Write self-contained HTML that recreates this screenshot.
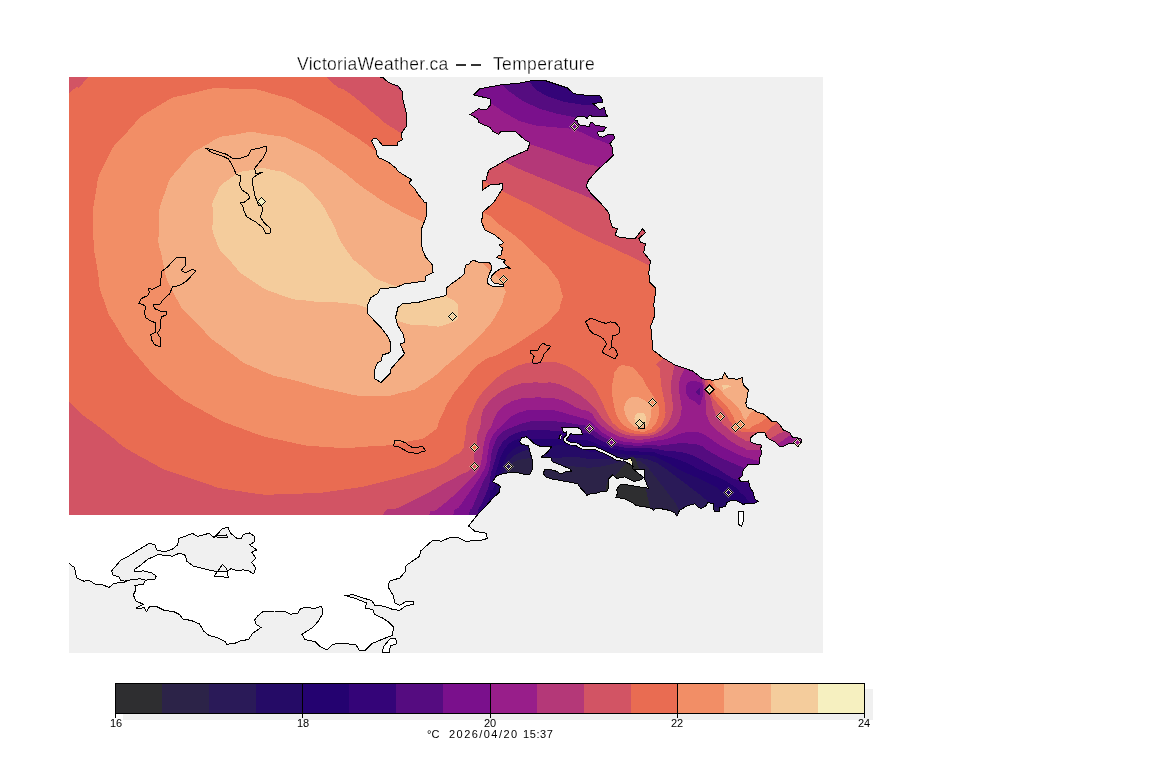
<!DOCTYPE html>
<html><head><meta charset="utf-8"><title>VictoriaWeather.ca -- Temperature</title>
<style>
html,body{margin:0;padding:0;background:#fff;}
body{width:1152px;height:768px;overflow:hidden;position:relative;font-family:"Liberation Sans",sans-serif;}
svg{position:absolute;left:0;top:0;display:block;}
.t{position:absolute;white-space:nowrap;color:#000;will-change:transform;}
</style></head><body>
<svg width="1152" height="768" viewBox="0 0 1152 768" shape-rendering="crispEdges">
<defs><clipPath id="land"><path d="M69 77 L379.4 77 L382.5 77.2 L387.7 81.9 L392.9 84.5 L398 86 L402.3 91.3 L402.3 97 L404.4 105.3 L406.5 113.7 L406.5 126.2 L401.2 133.5 L402.3 139.7 L398 141.8 L397.6 145.4 L382.5 145.4 L376.8 138.7 L373 138.7 L371.6 141.3 L374.2 146 L376.8 152 L376.7 154.7 L379.2 158 L383.3 159.7 L389.2 162.6 L396.7 168.8 L397.5 170.9 L403.3 174.7 L410 178.8 L412 179.7 L410 181.3 L409.6 183.8 L414.2 188 L418.3 194.7 L423.3 200.5 L424.2 202.2 L426.7 202.6 L426.7 212 L426 217.5 L421 230 L421 240 L422.5 250 L426 257.5 L432.5 265 L433 272.5 L426 276 L425 281 L415 282.5 L405 283.7 L396 287.5 L380 288.7 L377.5 293.7 L371 297.5 L367 306 L368 313.7 L373.7 320 L381 327.5 L387.5 336 L391 343.7 L390 352.5 L382.5 355 L381 361 L377.5 362.5 L374.5 370 L374.5 378.7 L381 382.5 L387.5 376 L391 372.5 L390 370 L398.7 360 L404.5 353.7 L400 343.7 L404.5 342.5 L403.7 335 L398 326 L395.5 317.5 L398 307.5 L402.5 303.7 L417.5 302.5 L432.5 298.7 L446 295.5 L447 287.5 L450 285 L460 277.6 L463.9 274.5 L464.7 269.4 L465.9 265 L469.4 264 L471 261.2 L474 260.4 L478 262 L482.7 262.7 L489.7 263 L491.6 265.5 L492 268.6 L490 272.5 L487.7 278.7 L487.7 283.4 L491.2 285.8 L495.2 287 L503.4 286.2 L503.4 284.2 L495.2 283.8 L492 281 L490.9 278.4 L492 275.6 L496 271.7 L500.6 268.6 L506 267.8 L510.4 268.2 L505.3 264.7 L503.7 262 L505.3 260 L500.6 258.8 L496.7 257.7 L498.3 255.7 L501 255 L501.4 251 L503 250.2 L502.2 247.5 L500.2 246.7 L499.8 244.8 L502.2 244 L503.4 242.4 L500.6 239.7 L497.5 237.3 L495.2 235 L492.5 233.7 L485 230 L481.7 222.5 L482.5 212.5 L493.7 202.5 L502.5 188.7 L502.5 183.7 L490 185 L482.5 190 L482.5 181 L486 180 L488.7 170 L497.5 165 L510 157.5 L527.5 150 L530 142.5 L525 140 L516 132 L501 131 L498.7 134.5 L492.5 131 L490 127.5 L478.7 122.5 L477.5 118.7 L470 114.5 L478.7 108.7 L486 110 L490.5 105 L490 98.7 L473.7 95 L480 88.7 L500 85 L520 83 L532.5 80.5 L545 80.5 L560 85.5 L567.5 88 L573.7 93.7 L590 95.7 L600 96 L602.7 100 L602.7 102.3 L592.5 103.5 L595.6 105.9 L597.6 107.8 L599.5 109.8 L601.9 108.6 L604.6 107.4 L605.4 112.5 L607.7 116.8 L605 116.8 L598.7 116.8 L592.5 116.4 L589.4 115.2 L587 118.4 L583.9 116 L578.4 116 L574.1 119.9 L577.3 120.5 L578.4 124.2 L582 125.8 L589.4 126.2 L590.5 122.7 L593.3 123 L594.8 125 L598.7 125.8 L606.6 127.3 L603.4 131.2 L598 131.6 L597.6 133.6 L599.1 135.9 L602.7 137.1 L605 135.9 L608.9 134.4 L613.6 134.4 L614.8 138.3 L609.7 143.7 L612.8 147.7 L612.8 153.1 L613.2 155.5 L610.9 157.8 L610 158.7 L597.5 170 L588.7 180 L586 186 L591 193.7 L600 202.5 L608.7 212.5 L610 220 L612.5 227.5 L617.5 228.7 L615 235 L620 237.5 L635 238.7 L642.5 228.7 L645.5 232.5 L638.7 238.7 L641 242.5 L645.5 243.7 L643.7 252.5 L650.5 261 L648.7 272.5 L650 282.5 L656 288.7 L653.7 305 L655 315 L650.7 326 L652 340 L653 350 L662.5 357.5 L675 365 L692.5 371 L702.5 378.7 L712.5 380.3 L722 378.5 L724.6 373 L728 378 L737.5 379.3 L742.3 377.5 L743.3 384.8 L748.3 389.6 L747.4 396.2 L745.8 403.5 L747.4 407.7 L753 409.3 L757.3 412.4 L762.5 413.4 L767.7 417 L771.9 421.2 L776.6 421.8 L779.2 423.9 L783.3 430 L789.6 432.7 L792.7 437.4 L800.5 438.4 L801.9 441 L797.9 446.8 L794.3 443.6 L788.5 443.6 L782.3 446.8 L779.2 446.2 L775 442 L770.8 440 L766.7 437.4 L765 432.7 L757.3 432.7 L752 436.4 L750 439 L751 442 L756.2 444.2 L760 444.2 L762 446.2 L760.4 448.3 L761.8 453 L759.6 458.2 L759 464 L748.5 464 L743.3 470 L742 476.5 L738.7 478.4 L740.7 481.7 L748.5 481 L749.8 486.9 L753 492 L755 499.2 L758.2 501.2 L755 503 L747.2 503 L743.3 504.5 L738 501.2 L732.9 499.9 L726.4 502.5 L725.7 506.4 L719.8 507.7 L719.2 511.6 L714.6 511.6 L713.3 507.7 L713.3 503.8 L708 502.5 L705.5 506.4 L701 508.4 L697.7 507 L695 503.8 L687.3 505.7 L679.5 510.3 L676.9 516.2 L674.9 512.9 L669 510.3 L662.5 509 L656 508.4 L653.4 510.3 L652 508.4 L643 506.4 L636.5 505.7 L632.5 502.7 L624.2 498.5 L615 497.4 L607 491.6 L602.4 491 L595.9 493.6 L590.7 493.6 L586.8 495.3 L584.2 491.6 L580.3 487.7 L577.7 483.8 L564.6 481.2 L553 479.2 L546.4 477.3 L543 473.4 L545 469.5 L550.3 469.5 L556.8 471.4 L560.7 474 L564.6 472 L571.8 471.4 L569.8 468.8 L560.7 465 L552.3 461.7 L551 458 L541.2 457 L547.7 452 L551.6 446.7 L541.2 446.7 L534.7 444 L530 439.5 L526.2 436.7 L521.7 437.6 L519.7 441.5 L521.7 444.7 L528.2 445.4 L529.5 450 L532 459 L532 470 L530 474 L523 474 L515.2 472 L503.4 473.4 L496.3 476 L492.4 481.8 L497 483.8 L500.2 486.4 L499.5 492.3 L493 498 L486 506 L477.3 515 L69 515Z"/></clipPath>
<clipPath id="map"><rect x="69" y="77" width="754" height="576"/></clipPath></defs>
<rect x="0" y="0" width="1152" height="768" fill="#fff"/>
<rect x="69" y="77" width="754" height="576" fill="#f0f0f0"/>
<g clip-path="url(#map)">
<g clip-path="url(#land)">
<rect x="60" y="70" width="780" height="460" fill="#d25464"/>
<path d="M300 40C369 55.7 309.8 58.7 327 77C344.2 95.3 335.1 82.1 351.7 95C368.3 107.9 362.8 104.7 376.7 115.8C390.6 126.9 372.2 114.9 393.3 128.3C414.4 141.7 409.4 138.1 440 156C470.6 173.9 461 168.7 485 182C509 195.3 493.7 186.7 512 196C530.3 205.3 517.3 197.8 540 210C562.7 222.2 555 219.5 580 232.5C605 245.5 591.5 237.8 615 249C638.5 260.2 622.2 252.3 650.5 266C678.8 279.7 676.8 268.7 700 290C723.2 311.3 723.3 309.3 720 330C716.7 350.7 709.7 341.9 690 352C670.3 362.1 670.7 354.1 660.8 360.4C650.9 366.7 660.3 363.9 660.3 370.8C660.3 377.7 660.1 374.2 660.8 381.2C661.5 388.2 661.2 384.8 662.4 391.7C663.6 398.6 663.5 395.9 664.5 402C665.5 408.1 665.2 405.8 665.4 410C665.6 414.2 665.9 410.5 665 414.7C664.1 418.9 665 417.8 662.7 422.5C660.4 427.2 661.9 425.3 658 428.7C654.1 432.1 656.2 431 651 432.7C645.8 434.4 648.1 433.6 642.3 433.8C636.5 434 639.4 434.3 633.7 433.4C628 432.5 631.2 433.6 625.2 431C619.2 428.4 621 430 615.8 425.6C610.6 421.2 612.9 423 609.5 417.8C606.1 412.6 608.8 416.6 605.6 410C602.4 403.4 604.4 406.2 600 398C595.6 389.8 597.8 392.4 592.5 385.4C587.2 378.4 590.5 382.2 584.2 377C577.9 371.8 580.7 373.9 573.7 369.8C566.7 365.7 570.2 367.2 563.3 364.6C556.4 362 559.9 362.9 553 362C546.1 361.1 549.5 361.7 542.5 361.8C535.5 361.9 538.9 361.4 532 362.3C525.1 363.2 528.6 362.5 521.7 364.6C514.8 366.7 518.2 365.2 511.2 368.7C504.2 372.2 507.7 369.8 500.8 375C493.9 380.2 497.3 377.5 490.4 384.4C483.5 391.3 485.8 387.7 480 395.8C474.2 403.9 477.3 399.6 473 408.7C468.7 417.8 469.7 413.2 467 423C464.3 432.8 466.7 429 465 438C463.3 447 466.2 443.8 462 450C457.8 456.2 459.8 451.7 452.5 456.7C445.2 461.7 450 460.3 440 465C430 469.7 440.8 465.4 422.5 470.8C404.2 476.2 411.5 474.9 385 481.2C358.5 487.5 373.7 485.4 343 489.6C312.3 493.8 326.3 493 293 493.7C259.7 494.4 276.3 496.6 243 491.7C209.7 486.8 226.3 490.2 193 479C159.7 467.8 173.4 474.7 143 458C112.6 441.3 126.4 447.7 101.7 429C77 410.3 89.6 421.7 69 402C48.4 382.3 56.3 437.3 40 370C23.7 302.7 20 283.3 20 200C20 116.7 23.7 155.7 40 120C56.3 84.3 53 107.3 69 93C85 78.7 71 98 88 77C105 56 49.3 42.3 120 30C190.7 17.7 231 24.3 300 40Z" fill="#e96c52"/>
<path d="M390 82 L406 82 L406 93 L402 92.5 L397.5 88Z" fill="#b43878"/>
<path d="M235 88.7C262.8 89.4 251.7 88 276.7 95C301.7 102 287.2 97.9 310 109.6C332.8 121.3 321.3 114.9 345 130C368.7 145.1 359.3 139.7 381 155C402.7 170.3 393 162.3 410 176C427 189.7 417 186 432 196C447 206 438.2 200.5 455 206C471.8 211.5 467.5 206.2 482.5 212.5C497.5 218.8 487.5 215.8 500 225C512.5 234.2 508.3 230 520 240C531.7 250 524.2 244.2 535 255C545.8 265.8 543.8 260.8 552.5 272.5C561.2 284.2 558.2 280 561 290C563.8 300 563.8 293.3 561 302.5C558.2 311.7 562.8 306.7 552.5 317.5C542.2 328.3 546.7 323.5 530 335C513.3 346.5 518.8 342.8 502.5 352C486.2 361.2 493.8 352.8 481 362.5C468.2 372.2 474.5 368.5 464 381C453.5 393.5 457.3 388 449.6 400C441.9 412 447.2 406 441 417C434.8 428 442.7 424.7 431 433C419.3 441.3 427 437.5 406 442C385 446.5 394.4 444.8 368 446.5C341.6 448.2 354.4 448.8 326.7 447C299 445.2 312.9 447 285 441C257.1 435 270.8 439.3 243 429C215.2 418.7 226.7 423.8 201.7 410C176.7 396.2 188.9 404.8 168 387.5C147.1 370.2 155.7 377.5 139 358C122.3 338.5 129.8 348.3 118 329C106.2 309.7 110.5 319.7 103.7 300C96.9 280.3 101 292.5 97.5 270C94 247.5 94 257.5 93.3 232.5C92.6 207.5 91.2 218.6 95.4 195C99.6 171.4 95.4 182.5 105.8 161.7C116.2 140.9 110 150.6 126.7 132.5C143.4 114.4 133.6 120.7 155.8 107.5C178 94.3 166.9 99.3 193.3 93C219.7 86.7 207.2 88 235 88.7Z" fill="#f28e66"/>
<path d="M235 134.6C255.7 131.1 245.8 131.1 268 134.6C290.2 138.1 279.4 134.6 301.7 145C324 155.4 312.9 150.5 335 165.8C357.1 181.1 345.8 175.7 368 191C390.2 206.3 383.5 201.4 401.7 211.7C419.9 222 403.1 210.9 422.5 222C441.9 233.1 437.5 229 460 245C482.5 261 475.4 255.8 490 270C504.6 284.2 499.1 278.3 503.7 287.5C508.3 296.7 505.8 289.2 503.7 297.5C501.6 305.8 503.7 301.7 497.5 312.5C491.3 323.3 494.2 319.2 485 330C475.8 340.8 481.7 334.2 470 345C458.3 355.8 465 350 450 362.5C435 375 440.8 372.5 425 382.5C409.2 392.5 420.8 388 402.5 392.5C384.2 397 392.5 396.6 370 396C347.5 395.4 359.2 395.7 335 390.8C310.8 385.9 322.5 388.1 297.5 381.2C272.5 374.3 283.6 380.4 260 370C236.4 359.6 247.5 365.3 226.7 350C205.9 334.7 214.9 342.3 197.5 324C180.1 305.7 186.4 317.2 174.6 295C162.8 272.8 167.2 279.8 162 257.5C156.8 235.2 158.3 248.8 159 228C159.7 207.2 156.7 215.7 164 195C171.3 174.3 167 182.7 181 166C195 149.3 188 155.5 206 145C224 134.5 214.3 138.1 235 134.6Z" fill="#f4ae84"/>
<path d="M213 215.8C213 200.5 210.1 207.6 216 195C221.9 182.4 218.9 186.3 230.8 178C242.7 169.7 237.8 172.7 251.7 170C265.6 167.3 258.7 167.3 272.5 170C286.3 172.7 279.2 169.7 293 178C306.8 186.3 301.4 181 314 195C326.6 209 320.5 202.3 330.8 220C341.1 237.7 333.6 231.7 345 248C356.4 264.3 351 257.3 365 269C379 280.7 368.7 276 387 283C405.3 290 399.8 285.3 420 290C440.2 294.7 434.8 289.8 447.5 297C460.2 304.2 458 302.7 458 311.7C458 320.7 459.3 319.6 447.5 324C435.7 328.4 439.2 326.1 422.5 325C405.8 323.9 416.3 326.6 397.5 320.8C378.7 315 384.2 313.4 366 307.5C347.8 301.6 361.7 305.2 343 303C324.3 300.8 330.7 303.7 310 301C289.3 298.3 300.2 301.9 280.8 295C261.4 288.1 268.4 291.5 251.7 280.4C235 269.3 242.7 274.9 230.8 261.7C218.9 248.5 221.9 256.1 216 240.8C210.1 225.5 213 231.1 213 215.8Z" fill="#f4cc9c"/>
<path d="M613 381.7C614.7 374.7 612.2 374.2 617 369C621.8 363.8 620.5 364.7 627.5 366C634.5 367.3 631.2 365.7 638 373C644.8 380.3 641.8 378.2 648 388C654.2 397.8 653.1 395.2 656.7 402.5C660.3 409.8 658.4 404.6 658.7 410C659 415.4 659.2 413.4 657.6 418.6C656 423.8 657.3 421.7 654 425.6C650.7 429.5 652.5 428.3 647.8 430.3C643.1 432.3 645.5 431.8 640 431.5C634.5 431.2 636.9 431.7 631.4 429.5C625.9 427.3 628.1 428.7 623.6 424.8C619.1 420.9 620.9 422.7 618 417.8C615.1 412.9 616.5 415.1 615 410C613.5 404.9 614.5 409.2 613.5 402.5C612.5 395.8 612.2 396.9 612 390C611.8 383.1 611.3 388.7 613 381.7Z" fill="#f28e66"/>
<path d="M624.4 410C625.2 413.7 624.4 413.1 626.7 417.8C629 422.5 628 420.7 631.4 424C634.8 427.3 633.3 425.9 636.9 427.6C640.5 429.3 639.2 429.1 642.3 429C645.4 428.9 643.8 429.6 646.2 427.2C648.6 424.8 647.8 425.9 649.4 421.7C651 417.5 650.5 418.6 651 414.7C651.5 410.8 651.2 412.7 651 410C650.8 407.3 653.1 410.2 650.4 406.7C647.7 403.2 648.6 402.5 643 399.4C637.4 396.3 638.9 397 633.7 397.3C628.5 397.6 630.6 397.3 627.5 400.4C624.4 403.5 625.4 403.5 624.4 406.7C623.4 409.9 623.6 406.3 624.4 410Z" fill="#f4ae84"/>
<path d="M635 416.2C636.2 412.5 636.8 413.5 640 413C643.2 412.5 642.7 412.4 644.7 414.7C646.7 417 645.9 416.4 645.9 420C645.9 423.6 646.7 423.4 644.7 425.6C642.7 427.8 642.7 427 640 426.5C637.3 426 638.2 427.4 636.5 424C634.8 420.6 633.8 419.9 635 416.2Z" fill="#f4cc9c"/>
<path d="M383 540C383 531.7 377.3 526 383 515C388.7 504 387.7 513 400 507C412.3 501 409.9 502 420 496.9C430.1 491.8 423.5 495.5 430.4 491.7C437.3 487.9 433.9 489.3 440.8 485.4C447.7 481.5 444.2 483.6 451.2 479.9C458.2 476.2 455.9 477.3 461.7 474.3C467.5 471.3 464.7 474 468.6 470.9C472.5 467.8 471.6 469 473.4 464.9C475.2 460.8 473.6 462.8 474 458.6C474.4 454.4 473.8 457.5 474.7 452.4C475.6 447.3 475.9 449.4 476.8 443.4C477.7 437.4 476.3 440.1 477.5 434.3C478.7 428.5 479 432.1 480.3 426C481.6 419.9 479.4 423 481.5 416C483.6 409 481.8 411.7 486.5 405C491.2 398.3 489.1 401.1 495.6 395.8C502.1 390.5 499 392.6 506 389C513 385.4 509.5 386.9 516.5 384.9C523.5 382.9 518.2 383.8 526.9 383C535.6 382.2 533.1 382.5 542.5 382.6C551.9 382.7 547.4 381.8 555 383.3C562.6 384.8 558.5 383.9 565.4 387C572.3 390.1 568.9 388.4 575.8 392.7C582.7 397 579.4 394.2 586.2 400C593 405.8 591 404.1 596.2 410C601.4 415.9 597.3 412.6 601.7 417.8C606.1 423 603.7 420.9 609.5 425.6C615.3 430.3 612.5 428.6 619 431.9C625.5 435.2 622 433.9 629 435.4C636 436.9 633 436.4 640 436.4C647 436.4 643.8 436.9 650 435.4C656.2 433.9 653.4 435.2 658.7 431.9C664 428.6 661.9 430.3 665.8 425.6C669.7 420.9 668.2 423 670.5 417.8C672.8 412.6 671.9 413.5 672.8 410C673.7 406.5 673.6 411.7 673.3 407.3C673 402.9 672.5 403.8 671.8 396.9C671.1 390 671 393.5 671.2 386.5C671.4 379.5 671.2 382.6 672.3 376C673.4 369.4 671.8 375.4 674.4 366.7C677 358 671.5 352.2 680 350C688.5 347.8 691.8 349.9 700 360C708.2 370.1 702.4 369.6 704.6 380.2C706.8 390.8 704.6 385.4 706.7 391.7C708.8 398 708.4 392.9 710.8 399C713.2 405.1 711 403.2 713.9 410C716.8 416.8 715 413.4 719.4 419.4C723.8 425.4 722 423.1 727.2 428C732.4 432.9 729.8 430.6 735 434.2C740.2 437.8 737.8 436.6 742.8 438.9C747.8 441.2 742.6 440.5 750 441.2C757.4 441.9 759.3 441.6 765 441C770.7 440.4 765.4 440 767 439.5C768.6 439 767.1 440.7 769.8 439.5C772.5 438.3 770.5 438.4 775 435.8C779.5 433.2 778.3 434.3 783.3 431.7C788.3 429.1 774.4 425.2 790 428C805.6 430.8 816.7 396 830 440C843.3 484 830 520 830 560Z" fill="#b43878"/>
<path d="M429 540C429 532 426.2 526.3 429 516C431.8 505.7 431.1 514.1 437.4 509C443.7 503.9 441.6 506 447.8 500.7C454 495.4 450.6 498.3 456.1 493C461.6 487.7 459.1 489.8 464.4 484.7C469.7 479.6 468.1 481.6 472 477.8C475.9 474 473.6 476.8 476.1 473.2C478.6 469.6 477.7 471.6 479.6 467C481.5 462.4 480.6 464.9 481.7 459.3C482.8 453.7 482.1 456.3 483 450.3C483.9 444.3 483.1 447.1 484.5 441.3C485.9 435.5 484.9 438.1 487.2 433C489.5 427.9 488.8 431.3 491.4 426C494 420.7 492.1 422.5 495 417C497.9 411.5 495.7 414 500 409.5C504.3 405 502.2 406.8 508 403.5C513.8 400.2 510.2 401.4 517.5 399.5C524.8 397.6 521 398.5 530 397.9C539 397.3 535.6 397.3 544.6 397.7C553.6 398.1 549.4 397.4 557 399C564.6 400.6 560.5 399.5 567.5 402.6C574.5 405.7 570.5 405.1 578 408.3C585.5 411.5 584.2 408.6 590 412.3C595.8 416 591.1 414.4 595.5 419.4C599.9 424.4 597.3 422.4 603.3 427.2C609.3 432 606.4 430.3 613.4 433.8C620.4 437.3 617.1 435.8 624.4 437.7C631.7 439.6 628.5 439 635.3 439.5C642.1 440 638.2 440 644.7 439.3C651.2 438.6 648.3 438.9 654.8 437.3C661.3 435.7 658.8 436.9 664.2 434.5C669.6 432.1 666.7 433.5 671 430C675.3 426.5 674 428.1 677 424C680 419.9 678.5 422.5 680 417.8C681.5 413.1 680.9 413.5 681.5 410C682.1 406.5 682.2 411.7 681.7 407.3C681.2 402.9 680.9 403.5 680 396.9C679.1 390.3 679 393.5 679 387.5C679 381.5 678.4 384.6 680 379C681.6 373.4 680.4 378.8 683.7 370.8C687 362.8 684.6 356.9 690 355C695.4 353.1 696.2 357.3 700 365C703.8 372.7 700.3 371.5 701.5 378C702.7 384.5 702.5 379.8 703.5 384.4C704.5 389 703.9 386.5 704.6 391.7C705.3 396.9 705 393.9 705.5 400C706 406.1 705 403.5 706 410C707 416.5 705.5 413.4 708.4 419.4C711.3 425.4 709.5 422.5 714.7 428C719.9 433.5 717.8 430.9 724 435.8C730.2 440.7 727.1 438.9 733.4 442.8C739.7 446.7 737.3 445.2 742.8 447.5C748.3 449.8 742.6 449.3 750 449.8C757.4 450.3 757.7 449.9 765 449C772.3 448.1 768 448.6 772 447C776 445.4 773.2 446.5 777 444.2C780.8 441.9 779.1 442.8 783.3 440C787.5 437.2 785.4 438.5 789.6 435.8C793.8 433.1 782.5 427.3 796 432C809.5 436.7 818.7 407.3 830 450C841.3 492.7 830 523.3 830 560Z" fill="#981e8a"/>
<path d="M453 540C453 532 450.8 527.2 453 516C455.2 504.8 455.6 512.1 459.6 506.3C463.6 500.5 461.1 504.2 465 498.6C468.9 493 467.4 495.4 471.4 489.6C475.4 483.8 473.5 486.6 477 481.3C480.5 476 478.8 479.1 481.8 473.6C484.8 468.1 484.1 470.4 485.9 464.9C487.7 459.4 486.3 462.5 487.2 457.2C488.1 451.9 487.4 454.7 488.6 448.9C489.8 443.1 488.4 445.7 490.7 439.9C493 434.1 491.9 436.2 495.6 431.6C499.3 427 497.7 430 501.8 426C505.9 422 503.6 423.3 508 419.5C512.4 415.7 510 417.2 515 414.5C520 411.8 517.3 413 523 411.5C528.7 410 523.8 410.5 532 410C540.2 409.5 538.7 409.5 547.7 410C556.7 410.5 551.7 410 559 411.5C566.3 413 562.6 412.6 569.6 414.6C576.6 416.6 573.2 415.4 580 417.5C586.8 419.6 584.1 417.3 590 421C595.9 424.7 591.8 423.8 597.8 428.7C603.8 433.6 600.7 431.9 608 435.8C615.3 439.7 612.2 438.3 619.7 440.5C627.2 442.7 623.3 441.7 630.6 442.4C637.9 443.1 634.3 443.1 641.6 442.7C648.9 442.3 646.4 442.1 652.5 441.2C658.6 440.3 654.9 440.9 660 440C665.1 439.1 662.6 440 667.8 438.5C673 437 669.9 437.5 675.6 435.5C681.3 433.5 679.3 433.7 685 432.5C690.7 431.3 687.3 431.5 692.8 431.8C698.3 432.1 696.2 431.6 701.4 433.4C706.6 435.2 703.5 434.2 708.4 437.3C713.3 440.4 710.5 439.1 716.2 442.8C721.9 446.5 719.3 444.9 725.6 448.3C731.9 451.7 728.7 450.1 735 453C741.3 455.9 739.4 455.1 744.4 456.9C749.4 458.7 745.1 457.1 750 458.4C754.9 459.7 750.7 459.3 759 460.8C767.3 462.3 751.3 459.9 775 463C798.7 466.1 811.7 437.7 830 470C848.3 502.3 830 530 830 560Z" fill="#7a108c"/>
<path d="M469 540C469 532 467.7 527.2 469 516C470.3 504.8 470.1 512.8 472.8 506.3C475.5 499.8 474.3 503 477 496.5C479.7 490 478.5 492.8 481 486.8C483.5 480.8 482.5 482.6 484.6 478.5C486.7 474.4 485.6 478.2 487.2 474.6C488.8 471 488.1 472.8 489.3 467.7C490.5 462.6 489.8 464.9 490.7 459.3C491.6 453.7 490.6 456.5 492 451C493.4 445.5 492.6 447.8 494.9 442.7C497.2 437.6 495.8 439.6 499 435.7C502.2 431.8 499 434.1 504.6 430.9C510.2 427.7 509.2 428.6 515.7 426C522.2 423.4 518.6 424.6 524 423C529.4 421.4 524.1 422 532 421.3C539.9 420.6 538 420.6 547.7 420.8C557.4 421 553.2 421.1 561.2 422C569.2 422.9 565.4 422.5 571.7 423.5C578 424.5 573.9 423.8 580 425C586.1 426.2 584.1 424.4 590 427.2C595.9 430 591.8 429.4 597.8 433.4C603.8 437.4 600.7 435.9 608 439.3C615.3 442.7 612.2 441.6 619.7 443.6C627.2 445.6 623.3 444.7 630.6 445.3C637.9 445.9 634.3 445.5 641.6 445.5C648.9 445.5 646 445.3 652.5 445.3C659 445.3 655.4 445.8 661 445.5C666.6 445.2 664 445.2 669.4 444.5C674.8 443.8 671 443.8 677.2 443.5C683.4 443.2 680.7 443 688 443.5C695.3 444 692.7 442.9 699 445C705.3 447.1 701.2 446.4 706.9 449.8C712.6 453.2 710 451.9 716.2 455.3C722.4 458.7 719.3 457.1 725.6 460C731.9 462.9 729.5 461.7 735 464C740.5 466.3 737 465.3 742 467C747 468.7 739 467.3 750 469C761 470.7 748.3 468.3 775 472C801.7 475.7 811.7 450.7 830 480C848.3 509.3 830 533.3 830 560Z" fill="#550c80"/>
<path d="M477.3 540C477.3 532 475.6 528.7 477.3 516C479 503.3 479.4 510.1 482.5 502C485.6 493.9 484.4 497.9 486.7 491.7C489 485.5 488.1 489.1 489.4 483.4C490.7 477.7 489.6 479.8 490.7 474.6C491.8 469.4 491.4 472.3 492.8 467.7C494.2 463.1 493.5 465.3 494.9 460.7C496.3 456.1 495.2 458.7 497 453.8C498.8 448.9 497.4 450.9 500.4 446C503.4 441.1 501.1 443.3 506 439.2C510.9 435.1 508.5 436.4 515 433.6C521.5 430.8 518.4 432.2 525.4 430.9C532.4 429.6 530.1 430 536 429.8C541.9 429.6 537.2 429.9 543 430.2C548.8 430.5 547 430.3 553.3 430.7C559.6 431.1 555.8 431.1 562 431.5C568.2 431.9 565.3 431.7 572 432C578.7 432.3 576 431.8 582 432.5C588 433.2 584.7 432.1 590 434.2C595.3 436.3 591.8 435.9 597.8 438.9C603.8 441.9 600.7 440.6 608 443.2C615.3 445.8 612.2 445 619.7 446.6C627.2 448.2 623.3 447.4 630.6 448C637.9 448.6 634.3 448.2 641.6 448.4C648.9 448.6 646 448 652.5 448.5C659 449 655.9 449.2 661 450C666.1 450.8 661.6 450.3 667.8 451C674 451.7 671.7 450.7 679.5 452C687.3 453.3 684.2 452.5 691.2 455C698.2 457.5 694.3 456.3 700.6 459.5C706.9 462.7 703.7 461.2 710 464.7C716.3 468.2 713.1 466.2 719.4 470C725.7 473.8 722.8 472.7 729 476C735.2 479.3 727.7 476.7 738 480C748.3 483.3 729.3 479.3 760 486C790.7 492.7 806.7 475.3 830 500C853.3 524.7 830 540 830 560Z" fill="#340478"/>
<path d="M489 540C489.1 526.4 488.1 516.3 489.4 499.3C490.7 482.3 491.1 494.3 493 489C494.9 483.7 494.4 487.7 495 483.4C495.6 479.1 494.2 480.8 494.9 476C495.6 471.2 495.6 473.7 497 469C498.4 464.3 497.4 466.8 499 462C500.6 457.2 499.5 459.3 501.8 454.5C504.1 449.7 502.8 451.7 506 447.5C509.2 443.3 507.3 444.8 511.5 442C515.7 439.2 513.3 440.2 518.5 439.2C523.7 438.2 520.9 439 527 439C533.1 439 530.7 439.3 536.7 439.3C542.7 439.3 539.5 439.1 545 439C550.5 438.9 547.6 438.8 553.3 439C559 439.2 555.8 439.3 562 439.5C568.2 439.7 565.3 439.3 572 439.5C578.7 439.7 576 439.4 582 440C588 440.6 584.7 439.7 590 441.2C595.3 442.7 591.8 442.3 597.8 444.4C603.8 446.5 600.7 445.7 608 447.5C615.3 449.3 612.2 448.6 619.7 449.8C627.2 451 623.3 450.6 630.6 451.2C637.9 451.8 634.3 451.3 641.6 451.6C648.9 451.9 646.4 451 652.5 452C658.6 453 653.6 452.7 660 454.5C666.4 456.3 663.9 455.2 671.7 457.5C679.5 459.8 676.4 458.7 683.4 461.5C690.4 464.3 687.6 463.3 692.8 466C698 468.7 693.9 467.2 699 469.5C704.1 471.8 698 468.5 708 473C718 477.5 717.7 476 729 483C740.3 490 734.7 487.3 742 494C749.3 500.7 743.3 496 751 503C758.7 510 738.7 502.7 765 515C791.3 527.3 808.3 525 830 540C851.7 555 830 553.3 830 560Z" fill="#240270"/>
<path d="M496 540C496 524 494.8 510.7 496 492C497.2 473.3 498 490 499.5 484C501 478 499.9 478.5 500.4 474C500.9 469.5 500.2 473.7 501.1 470.4C502 467.1 501.6 468.3 503.2 464.2C504.8 460.1 503.7 461.9 506 458C508.3 454.1 507.2 455.7 510.2 452.4C513.2 449.1 511.8 450.3 515 448.2C518.2 446.1 515.6 447 519.9 446.1C524.2 445.2 522.4 445.6 528 445.5C533.6 445.4 531 445.3 536.7 445.8C542.4 446.3 539.5 446.9 545 446.9C550.5 446.9 547.1 446.3 553.3 445.8C559.5 445.3 556.8 445.1 563.7 445.5C570.6 445.9 567 445.4 574 446.9C581 448.4 578.6 448.3 584.6 450C590.6 451.7 586.9 451.3 592 452C597.1 452.7 594 451.8 600 452C606 452.2 603.4 451.9 610 452.5C616.6 453.1 612.8 452.9 619.7 453.7C626.6 454.5 623.3 454.5 630.6 455C637.9 455.5 634.3 455 641.6 455.3C648.9 455.6 646.4 454.8 652.5 456C658.6 457.2 654.9 456.7 660 459C665.1 461.3 662.6 460.2 667.8 463C673 465.8 670.9 464.8 675.6 467.5C680.3 470.2 671.2 465.8 682 471C692.8 476.2 695 476.3 708 483C721 489.7 713.2 485.5 721 491C728.8 496.5 725.2 494.5 731.5 499.5C737.8 504.5 730.5 495.8 740 506C749.5 516.2 740 512 760 530C780 548 786.7 550 800 560Z" fill="#250b66"/>
<path d="M500 540C500 523.3 499 510.7 500 490C501 469.3 501.5 484.5 503 478C504.5 471.5 503.4 474.8 504.6 470.4C505.8 466 504.8 468.6 506.7 464.9C508.6 461.2 507.4 462.5 510.2 459.3C513 456.1 511.1 457.7 515 455.2C518.9 452.7 517.1 453.6 522 451.7C526.9 449.8 524.3 449.7 529.6 449.6C534.9 449.5 532.9 449.7 538 451.5C543.1 453.3 540.3 453 545 455C549.7 457 546.3 456.7 552 457.5C557.7 458.3 554.7 457.7 562 457.5C569.3 457.3 566 456.7 574 457C582 457.3 578 457.7 586 458.5C594 459.3 590 459.5 598 459.5C606 459.5 602.7 459.2 610 458.5C617.3 457.8 613.7 457.8 620 457.5C626.3 457.2 623.4 457.5 629 457.7C634.6 457.9 631.7 457.6 636.9 458C642.1 458.4 639.7 457.8 644.7 458.8C649.7 459.8 646.9 458.9 652 461C657.1 463.1 654 461.3 660 465C666 468.7 662.7 466.7 670 472C677.3 477.3 673.7 474.7 682 481C690.3 487.3 688 485.6 695 491C702 496.4 697.8 493 703 497.3C708.2 501.6 701.7 496.2 710.7 503.8C719.7 511.4 713.6 501.3 730 520C746.4 538.7 750 546.7 760 560Z" fill="#2a1a58"/>
<path d="M504 540C504 523.3 503.3 510.7 504 490C504.7 469.3 504.7 484 506 478C507.3 472 507.1 475 508 472C508.9 469 507.8 471.4 508.8 469C509.8 466.6 508.8 467.4 510.9 464.9C513 462.4 511.3 463.3 515 461.4C518.7 459.5 516.4 460.2 522 459.3C527.6 458.4 526.4 458.2 531.7 458.6C537 459 533.2 458.5 538 460.5C542.8 462.5 540 462.5 546 464.5C552 466.5 548.7 466 556 466.5C563.3 467 560 465.8 568 466C576 466.2 572 466.5 580 467C588 467.5 584 467.8 592 467.5C600 467.2 596 467.5 604 466C612 464.5 608.7 464.7 616 463C623.3 461.3 619 461.7 626 461C633 460.3 631.2 460 636.9 460.8C642.6 461.6 639 460.7 643 463.4C647 466.1 644.7 464.2 649 469C653.3 473.8 649.3 469.2 656 477.8C662.7 486.4 661.7 484.7 669 494.7C676.3 504.7 671 495.9 678 507.7C685 519.5 682.7 512.6 690 530C697.3 547.4 696.7 550 700 560Z" fill="#2c2348"/>
<path d="M600 540C601.7 524 601 512 605 492C609 472 607 487.3 612 480C617 472.7 615.3 475.3 620 470C624.7 464.7 621.8 468.3 626 464C630.2 459.7 628.6 456.3 632.6 457C636.6 457.7 634.5 458.3 638 466C641.5 473.7 639.2 467 643 480C646.8 493 645.5 488.3 649.5 505C653.5 521.7 653.2 521.7 655 530Z" fill="#2e2e30"/>
<path d="M686.9 384.4C688.8 381.3 687.8 381.9 692 381.2C696.2 380.5 695.9 380.9 699.4 382.3C702.9 383.7 701.3 381.6 702.5 385.4C703.7 389.2 703.3 388.8 703 393.7C702.7 398.6 702.7 396.3 701.5 400C700.3 403.7 701.8 404.4 699.4 404.7C697 405 698 403.6 694.2 401C690.4 398.4 690.6 400.4 688 396.9C685.4 393.4 686.8 394.8 686.4 390.6C686 386.4 685 387.5 686.9 384.4Z" fill="#7a108c"/>
<path d="M695.2 392.2 L700 387.5 L700.2 395.8Z" fill="#550c80"/>
<path d="M700 360C702.6 367.1 703.7 369.3 707.7 381.2C711.7 393.1 708.8 388.5 711.9 395.8C715 403.1 713.2 398.1 717 403C720.8 407.9 720 406.1 723.3 410.4C726.6 414.7 724 411.3 727 416C730 420.7 728.1 419.5 732.3 424.4C736.5 429.3 735.1 428.2 739.6 430.6C744.1 433 740 431.1 745.8 431.7C751.6 432.3 750.6 432.2 757 432.5C763.4 432.8 761.1 433.7 765 432.7C768.9 431.7 765.4 432.4 768.7 429.6C772 426.8 772.2 426.8 775 424.4C777.8 422 768.7 430.4 777 422.3C785.3 414.2 792.3 427.4 800 400C807.7 372.6 800 360 800 340Z" fill="#e96c52"/>
<path d="M704 360C706.6 367.4 708.2 371.1 711.9 382.3C715.6 393.5 712.4 388 715 393.7C717.6 399.4 715.8 395.1 719.8 399.4C723.8 403.7 722.8 401.5 727 406.7C731.2 411.9 729.1 409.8 732.3 415C735.5 420.2 732 417.8 736.5 422.3C741 426.8 739.9 427.5 745.8 428.5C751.7 429.5 748.6 427.8 754.2 425.4C759.8 423 758.3 423.8 762.5 421.2C766.7 418.6 757.5 424.7 766.7 417.6C775.9 410.5 782.2 425.9 790 400C797.8 374.1 790 360 790 340Z" fill="#f28e66"/>
<path d="M708 360C709.7 367 708.7 371 713 381C717.3 391 716.5 384.9 720.8 390C725.1 395.1 721.5 391.7 726 396.2C730.5 400.7 729.9 399 734.4 403.5C738.9 408 736.1 404.6 739.6 409.8C743.1 415 741.7 417.5 744.8 419.2C747.9 420.9 745.9 417.8 749 415C752.1 412.2 743.7 417.5 754 410.8C764.3 404.1 771.3 418.6 780 395C788.7 371.4 780 358.3 780 340Z" fill="#f4ae84"/>
<path d="M721.8 384.4 L731.7 386 L723.3 389.6Z" fill="#f4cc9c"/>
<path d="M440 130C453.3 136.7 459 139.7 480 150C501 160.3 490.6 155 503 161C515.4 167 506.8 163.2 517.3 168C527.8 172.8 523 170.5 534.5 175.3C546 180.1 539.9 177.5 551.7 182.4C563.5 187.3 557.2 184.8 570 190C582.8 195.2 566.7 188 590 198C613.3 208 603.3 219.3 640 220C676.7 220.7 680 260 700 200C720 140 786.7 93.3 700 40C613.3 -13.3 526.7 40 440 40Z" fill="#b43878"/>
<path d="M440 105C450 110 452.3 111.4 470 120C487.7 128.6 479.3 124.9 493 130.9C506.7 136.9 499.1 133.7 511 138C522.9 142.3 517.1 140 528.8 143.8C540.5 147.6 533.6 145.2 546 149.5C558.4 153.8 552.7 151.9 566 156.7C579.3 161.5 575.5 160.5 586 163.8C596.5 167.1 579.5 161.3 597.5 166.7C615.5 172.1 605.8 175.6 640 180C674.2 184.4 680 226.7 700 180C720 133.3 786.7 86.7 700 40C613.3 -6.7 526.7 40 440 40Z" fill="#981e8a"/>
<path d="M440 70C451.4 77.9 457.1 82.4 474.3 93.6C491.5 104.8 480 96.6 491.5 103.7C503 110.8 496.3 108.3 508.7 115C521.1 121.7 514.5 119.7 528.8 123.7C543.1 127.7 539.1 125.5 551.7 127C564.3 128.5 557.8 126.7 566.7 128.1C575.6 129.5 570.6 128.3 578.4 131.2C586.2 134.1 582.4 133.3 590.2 136.7C598 140.1 595.4 138.8 601.9 141.4C608.4 144 593.7 138.3 609.7 144.5C625.7 150.7 619.9 154.8 650 160C680.1 165.2 683.3 200 700 160C716.7 120 786.7 80 700 40C613.3 0 526.7 40 440 40Z" fill="#7a108c"/>
<path d="M480 60C487.7 68.3 491.5 73.3 503 85C514.5 96.7 504.9 88.3 514.4 95C523.9 101.7 519.2 99.3 531.6 105C544 110.7 540 108.7 551.7 112.2C563.4 115.7 558.3 113.7 566.7 115.6C575.1 117.5 570.8 116.5 576.9 118C583 119.5 577.3 119 585 120C592.7 121 588.3 120.3 600 121C611.7 121.7 586.7 122.3 620 122C653.3 121.7 673.3 147.3 700 120C726.7 92.7 700 66.7 700 40Z" fill="#550c80"/>
<path d="M510 60C516.3 67.1 518.7 70.7 528.8 81.4C538.9 92.1 530.7 86.2 540.2 92.2C549.7 98.2 545.9 95.7 557.4 99.5C568.9 103.3 563.1 101.7 574.6 103.5C586.1 105.3 576.7 104.2 591.8 105C606.9 105.8 583.9 107.7 620 106C656.1 104.3 673.3 122 700 100C726.7 78 700 60 700 40Z" fill="#340478"/>
<path d="M690 30C693.3 30 696.7 28.3 700 30C703.3 31.7 700 33.3 700 35Z" fill="#240270"/>
</g>
<path d="M69 515 L477.3 515 L468.5 526 L474.8 531.2 L486.2 533.3 L487.3 538.5 L480 540.6 L465.4 541.2 L459 538 L449.8 537.5 L441.5 541.2 L433 540 L420.6 551 L419.6 556.2 L406 565.6 L405 571.9 L399.8 578 L389.4 581.2 L388.3 587.5 L393.5 595.8 L394.6 603 L399.8 605.2 L407 601 L413.3 601 L413.3 604.2 L405 606.2 L399.8 610.4 L392.5 609.4 L384.2 606.2 L374.8 605.2 L371.7 600.6 L363.3 598 L353 594.8 L344.6 595.4 L357 599 L366.5 603 L365.4 608.3 L372.7 609.4 L374.8 614.6 L382 617.7 L388.3 621.9 L393.5 627 L392.5 635.4 L384.2 638.5 L371.7 643.7 L364.4 651 L359 650 L356 644.8 L342.5 643.3 L333 644.2 L326.9 650 L320.6 646.9 L315.4 641.7 L305 639.6 L301.9 634.4 L313.3 627 L318.5 620.8 L322.7 613.5 L321.7 606.2 L314.4 608.7 L307 607.3 L300.8 608.3 L297.7 613.5 L290.2 614.2 L285 611.5 L274.6 611 L263 611.5 L258 615.6 L254.8 619.8 L255.8 624 L261 627.5 L252.7 633.3 L248.5 639.6 L241.2 640.6 L234 643.7 L226.7 644.2 L225.6 641.7 L218.3 638 L209 635.4 L203.7 631.2 L199.6 624 L191.2 620.4 L183 619.2 L179.8 614.6 L173.5 611.5 L164.2 610.4 L155.8 606.2 L149.6 606.7 L146.5 611.5 L144.4 607.9 L136 608.3 L143.3 604.2 L136 601 L133.3 594.8 L136 589.6 L135 585.4 L143.3 584.4 L145.4 580.2 L140.2 578.7 L128.7 580.2 L124.6 582.3 L114 583.3 L109 587.5 L101.7 584.4 L95.4 584.4 L89 580.2 L84 581.2 L76.7 578 L74.6 567.7 L69 563.5Z" fill="#fff"/>
<path d="M124.6 581.2 L120.4 580.2 L119.4 577 L113 575 L111.7 570.8 L116.2 565.6 L120.4 560.4 L126.7 557.3 L135 552 L143.3 546.9 L149.6 543.3 L154.8 544.8 L156.9 550 L164.2 552 L172.5 549 L177.7 544.8 L178.7 538.5 L185 536.5 L192.3 533.3 L197.5 536.5 L209 533.3 L214.2 537.5 L218.3 533.3 L221.5 529.2 L227.7 527 L230.8 533.3 L237 538.5 L241.2 538.5 L243.3 534.4 L249.6 533 L254.8 536.5 L254.8 541.7 L249.6 544.8 L256.9 550 L251.7 552 L255.8 558.3 L251.7 562.5 L255.8 567.7 L253.7 574 L248.5 570.8 L243.3 569.8 L237 570.8 L230.8 568.7 L226.7 571.9 L218.3 571.9 L208 569.8 L193.3 566.2 L187 561.5 L185 555.2 L179.8 553 L172.5 556.2 L158 554.6 L147.5 559.4 L140.2 565.6 L134 569.8 L134 571.9 L143.3 570.8 L151.7 573 L156.2 576 L154.8 579.2 L145.4 580.2 L140.2 578.7 L128.7 580.2Z" fill="#f0f0f0"/>
<path d="M382 652.5 L384.2 645.8 L390.4 638.5 L395.6 638.5 L396.7 643.7 L390.4 645.8 L389.4 652.5Z" fill="#fff"/>
<path d="M738.7 511.4 L743.3 511.9 L744 518 L741.7 526.6 L738.3 524 L738.3 518Z" fill="#fff"/>
<path d="M261.5 196L267 201.5L261.5 207L256 201.5Z" fill="#f6f0c0" fill-opacity="0.35"/>
<path d="M261.5 197L266 201.5L261.5 206L257 201.5Z" fill="#000"/>
<path d="M261.5 198L265 201.5L261.5 205L258 201.5Z" fill="#f6f0c0"/>
<path d="M261.5 199L264 201.5L261.5 204L259 201.5Z" fill="#f6f0c0"/>
<path d="M452.5 311L458 316.5L452.5 322L447 316.5Z" fill="#f6f0c0" fill-opacity="0.35"/>
<path d="M452.5 312L457 316.5L452.5 321L448 316.5Z" fill="#000"/>
<path d="M452.5 313L456 316.5L452.5 320L449 316.5Z" fill="#f6f0c0"/>
<path d="M452.5 314L455 316.5L452.5 319L450 316.5Z" fill="#f4cc9c"/>
<path d="M503.5 274L509 279.5L503.5 285L498 279.5Z" fill="#f6f0c0" fill-opacity="0.35"/>
<path d="M503.5 275L508 279.5L503.5 284L499 279.5Z" fill="#000"/>
<path d="M503.5 276L507 279.5L503.5 283L500 279.5Z" fill="#f6f0c0"/>
<path d="M503.5 277L506 279.5L503.5 282L501 279.5Z" fill="#f28e66"/>
<path d="M574.5 121L580 126.5L574.5 132L569 126.5Z" fill="#f6f0c0" fill-opacity="0.35"/>
<path d="M574.5 122L579 126.5L574.5 131L570 126.5Z" fill="#000"/>
<path d="M574.5 123L578 126.5L574.5 130L571 126.5Z" fill="#f6f0c0"/>
<path d="M574.5 124L577 126.5L574.5 129L572 126.5Z" fill="#7a108c"/>
<path d="M652.5 397L658 402.5L652.5 408L647 402.5Z" fill="#f6f0c0" fill-opacity="0.35"/>
<path d="M652.5 398L657 402.5L652.5 407L648 402.5Z" fill="#000"/>
<path d="M652.5 399L656 402.5L652.5 406L649 402.5Z" fill="#f6f0c0"/>
<path d="M652.5 400L655 402.5L652.5 405L650 402.5Z" fill="#f28e66"/>
<rect x="638" y="422" width="7" height="7" fill="#000"/>
<rect x="639" y="423" width="5" height="5" fill="#f4ae84"/>
<path d="M639.5 418L645 423.5L639.5 429L634 423.5Z" fill="#f6f0c0" fill-opacity="0.35"/>
<path d="M639.5 419L644 423.5L639.5 428L635 423.5Z" fill="#000"/>
<path d="M639.5 420L643 423.5L639.5 427L636 423.5Z" fill="#f6f0c0"/>
<path d="M639.5 421L642 423.5L639.5 426L637 423.5Z" fill="#f4cc9c"/>
<path d="M709.5 384L715 389.5L709.5 395L704 389.5Z" fill="#000"/>
<path d="M709.5 386L713 389.5L709.5 393L706 389.5Z" fill="#f6f0c0"/>
<path d="M709.5 388L711 389.5L709.5 391L708 389.5Z" fill="#f28e66"/>
<path d="M720.5 411L726 416.5L720.5 422L715 416.5Z" fill="#f6f0c0" fill-opacity="0.35"/>
<path d="M720.5 412L725 416.5L720.5 421L716 416.5Z" fill="#000"/>
<path d="M720.5 413L724 416.5L720.5 420L717 416.5Z" fill="#f6f0c0"/>
<path d="M720.5 414L723 416.5L720.5 419L718 416.5Z" fill="#e96c52"/>
<path d="M735.5 422L741 427.5L735.5 433L730 427.5Z" fill="#f6f0c0" fill-opacity="0.35"/>
<path d="M735.5 423L740 427.5L735.5 432L731 427.5Z" fill="#000"/>
<path d="M735.5 424L739 427.5L735.5 431L732 427.5Z" fill="#f6f0c0"/>
<path d="M735.5 425L738 427.5L735.5 430L733 427.5Z" fill="#f28e66"/>
<path d="M740.5 419L746 424.5L740.5 430L735 424.5Z" fill="#f6f0c0" fill-opacity="0.35"/>
<path d="M740.5 420L745 424.5L740.5 429L736 424.5Z" fill="#000"/>
<path d="M740.5 421L744 424.5L740.5 428L737 424.5Z" fill="#f6f0c0"/>
<path d="M740.5 422L743 424.5L740.5 427L738 424.5Z" fill="#f28e66"/>
<path d="M797.5 437L803 442.5L797.5 448L792 442.5Z" fill="#f6f0c0" fill-opacity="0.35"/>
<path d="M797.5 438L802 442.5L797.5 447L793 442.5Z" fill="#000"/>
<path d="M797.5 439L801 442.5L797.5 446L794 442.5Z" fill="#f6f0c0"/>
<path d="M797.5 440L800 442.5L797.5 445L795 442.5Z" fill="#981e8a"/>
<path d="M611.5 437L617 442.5L611.5 448L606 442.5Z" fill="#f6f0c0" fill-opacity="0.35"/>
<path d="M611.5 438L616 442.5L611.5 447L607 442.5Z" fill="#000"/>
<path d="M611.5 439L615 442.5L611.5 446L608 442.5Z" fill="#f6f0c0"/>
<path d="M611.5 440L614 442.5L611.5 445L609 442.5Z" fill="#7a108c"/>
<path d="M589.5 423L595 428.5L589.5 434L584 428.5Z" fill="#f6f0c0" fill-opacity="0.35"/>
<path d="M589.5 424L594 428.5L589.5 433L585 428.5Z" fill="#000"/>
<path d="M589.5 425L593 428.5L589.5 432L586 428.5Z" fill="#f6f0c0"/>
<path d="M589.5 426L592 428.5L589.5 431L587 428.5Z" fill="#7a108c"/>
<path d="M728.5 487L734 492.5L728.5 498L723 492.5Z" fill="#f6f0c0" fill-opacity="0.35"/>
<path d="M728.5 488L733 492.5L728.5 497L724 492.5Z" fill="#000"/>
<path d="M728.5 489L732 492.5L728.5 496L725 492.5Z" fill="#f6f0c0"/>
<path d="M728.5 490L731 492.5L728.5 495L726 492.5Z" fill="#240270"/>
<path d="M474.5 442L480 447.5L474.5 453L469 447.5Z" fill="#f6f0c0" fill-opacity="0.35"/>
<path d="M474.5 443L479 447.5L474.5 452L470 447.5Z" fill="#000"/>
<path d="M474.5 444L478 447.5L474.5 451L471 447.5Z" fill="#f6f0c0"/>
<path d="M474.5 445L477 447.5L474.5 450L472 447.5Z" fill="#e96c52"/>
<path d="M474.5 461L480 466.5L474.5 472L469 466.5Z" fill="#f6f0c0" fill-opacity="0.35"/>
<path d="M474.5 462L479 466.5L474.5 471L470 466.5Z" fill="#000"/>
<path d="M474.5 463L478 466.5L474.5 470L471 466.5Z" fill="#f6f0c0"/>
<path d="M474.5 464L477 466.5L474.5 469L472 466.5Z" fill="#d25464"/>
<path d="M508.5 461L514 466.5L508.5 472L503 466.5Z" fill="#f6f0c0" fill-opacity="0.35"/>
<path d="M508.5 462L513 466.5L508.5 471L504 466.5Z" fill="#000"/>
<path d="M508.5 463L512 466.5L508.5 470L505 466.5Z" fill="#f6f0c0"/>
<path d="M508.5 464L511 466.5L508.5 469L506 466.5Z" fill="#2a1a58"/>
<g fill="none" stroke="#000" stroke-width="1" stroke-linejoin="round">
<path d="M379.4 77 L382.5 77.2 L387.7 81.9 L392.9 84.5 L398 86 L402.3 91.3 L402.3 97 L404.4 105.3 L406.5 113.7 L406.5 126.2 L401.2 133.5 L402.3 139.7 L398 141.8 L397.6 145.4 L382.5 145.4 L376.8 138.7 L373 138.7 L371.6 141.3 L374.2 146 L376.8 152 L376.7 154.7 L379.2 158 L383.3 159.7 L389.2 162.6 L396.7 168.8 L397.5 170.9 L403.3 174.7 L410 178.8 L412 179.7 L410 181.3 L409.6 183.8 L414.2 188 L418.3 194.7 L423.3 200.5 L424.2 202.2 L426.7 202.6 L426.7 212 L426 217.5 L421 230 L421 240 L422.5 250 L426 257.5 L432.5 265 L433 272.5 L426 276 L425 281 L415 282.5 L405 283.7 L396 287.5 L380 288.7 L377.5 293.7 L371 297.5 L367 306 L368 313.7 L373.7 320 L381 327.5 L387.5 336 L391 343.7 L390 352.5 L382.5 355 L381 361 L377.5 362.5 L374.5 370 L374.5 378.7 L381 382.5 L387.5 376 L391 372.5 L390 370 L398.7 360 L404.5 353.7 L400 343.7 L404.5 342.5 L403.7 335 L398 326 L395.5 317.5 L398 307.5 L402.5 303.7 L417.5 302.5 L432.5 298.7 L446 295.5 L447 287.5 L450 285 L460 277.6 L463.9 274.5 L464.7 269.4 L465.9 265 L469.4 264 L471 261.2 L474 260.4 L478 262 L482.7 262.7 L489.7 263 L491.6 265.5 L492 268.6 L490 272.5 L487.7 278.7 L487.7 283.4 L491.2 285.8 L495.2 287 L503.4 286.2 L503.4 284.2 L495.2 283.8 L492 281 L490.9 278.4 L492 275.6 L496 271.7 L500.6 268.6 L506 267.8 L510.4 268.2 L505.3 264.7 L503.7 262 L505.3 260 L500.6 258.8 L496.7 257.7 L498.3 255.7 L501 255 L501.4 251 L503 250.2 L502.2 247.5 L500.2 246.7 L499.8 244.8 L502.2 244 L503.4 242.4 L500.6 239.7 L497.5 237.3 L495.2 235 L492.5 233.7 L485 230 L481.7 222.5 L482.5 212.5 L493.7 202.5 L502.5 188.7 L502.5 183.7 L490 185 L482.5 190 L482.5 181 L486 180 L488.7 170 L497.5 165 L510 157.5 L527.5 150 L530 142.5 L525 140 L516 132 L501 131 L498.7 134.5 L492.5 131 L490 127.5 L478.7 122.5 L477.5 118.7 L470 114.5 L478.7 108.7 L486 110 L490.5 105 L490 98.7 L473.7 95 L480 88.7 L500 85 L520 83 L532.5 80.5 L545 80.5 L560 85.5 L567.5 88 L573.7 93.7 L590 95.7 L600 96 L602.7 100 L602.7 102.3 L592.5 103.5 L595.6 105.9 L597.6 107.8 L599.5 109.8 L601.9 108.6 L604.6 107.4 L605.4 112.5 L607.7 116.8 L605 116.8 L598.7 116.8 L592.5 116.4 L589.4 115.2 L587 118.4 L583.9 116 L578.4 116 L574.1 119.9 L577.3 120.5 L578.4 124.2 L582 125.8 L589.4 126.2 L590.5 122.7 L593.3 123 L594.8 125 L598.7 125.8 L606.6 127.3 L603.4 131.2 L598 131.6 L597.6 133.6 L599.1 135.9 L602.7 137.1 L605 135.9 L608.9 134.4 L613.6 134.4 L614.8 138.3 L609.7 143.7 L612.8 147.7 L612.8 153.1 L613.2 155.5 L610.9 157.8 L610 158.7 L597.5 170 L588.7 180 L586 186 L591 193.7 L600 202.5 L608.7 212.5 L610 220 L612.5 227.5 L617.5 228.7 L615 235 L620 237.5 L635 238.7 L642.5 228.7 L645.5 232.5 L638.7 238.7 L641 242.5 L645.5 243.7 L643.7 252.5 L650.5 261 L648.7 272.5 L650 282.5 L656 288.7 L653.7 305 L655 315 L650.7 326 L652 340 L653 350 L662.5 357.5 L675 365 L692.5 371 L702.5 378.7 L712.5 380.3 L722 378.5 L724.6 373 L728 378 L737.5 379.3 L742.3 377.5 L743.3 384.8 L748.3 389.6 L747.4 396.2 L745.8 403.5 L747.4 407.7 L753 409.3 L757.3 412.4 L762.5 413.4 L767.7 417 L771.9 421.2 L776.6 421.8 L779.2 423.9 L783.3 430 L789.6 432.7 L792.7 437.4 L800.5 438.4 L801.9 441 L797.9 446.8 L794.3 443.6 L788.5 443.6 L782.3 446.8 L779.2 446.2 L775 442 L770.8 440 L766.7 437.4 L765 432.7 L757.3 432.7 L752 436.4 L750 439 L751 442 L756.2 444.2 L760 444.2 L762 446.2 L760.4 448.3 L761.8 453 L759.6 458.2 L759 464 L748.5 464 L743.3 470 L742 476.5 L738.7 478.4 L740.7 481.7 L748.5 481 L749.8 486.9 L753 492 L755 499.2 L758.2 501.2 L755 503 L747.2 503 L743.3 504.5 L738 501.2 L732.9 499.9 L726.4 502.5 L725.7 506.4 L719.8 507.7 L719.2 511.6 L714.6 511.6 L713.3 507.7 L713.3 503.8 L708 502.5 L705.5 506.4 L701 508.4 L697.7 507 L695 503.8 L687.3 505.7 L679.5 510.3 L676.9 516.2 L674.9 512.9 L669 510.3 L662.5 509 L656 508.4 L653.4 510.3 L652 508.4 L643 506.4 L636.5 505.7 L632.5 502.7 L624.2 498.5 L615 497.4 L607 491.6 L602.4 491 L595.9 493.6 L590.7 493.6 L586.8 495.3 L584.2 491.6 L580.3 487.7 L577.7 483.8 L564.6 481.2 L553 479.2 L546.4 477.3 L543 473.4 L545 469.5 L550.3 469.5 L556.8 471.4 L560.7 474 L564.6 472 L571.8 471.4 L569.8 468.8 L560.7 465 L552.3 461.7 L551 458 L541.2 457 L547.7 452 L551.6 446.7 L541.2 446.7 L534.7 444 L530 439.5 L526.2 436.7 L521.7 437.6 L519.7 441.5 L521.7 444.7 L528.2 445.4 L529.5 450 L532 459 L532 470 L530 474 L523 474 L515.2 472 L503.4 473.4 L496.3 476 L492.4 481.8 L497 483.8 L500.2 486.4 L499.5 492.3 L493 498 L486 506 L477.3 515"/>
<path d="M477.3 515 L468.5 526 L474.8 531.2 L486.2 533.3 L487.3 538.5 L480 540.6 L465.4 541.2 L459 538 L449.8 537.5 L441.5 541.2 L433 540 L420.6 551 L419.6 556.2 L406 565.6 L405 571.9 L399.8 578 L389.4 581.2 L388.3 587.5 L393.5 595.8 L394.6 603 L399.8 605.2 L407 601 L413.3 601 L413.3 604.2 L405 606.2 L399.8 610.4 L392.5 609.4 L384.2 606.2 L374.8 605.2 L371.7 600.6 L363.3 598 L353 594.8 L344.6 595.4 L357 599 L366.5 603 L365.4 608.3 L372.7 609.4 L374.8 614.6 L382 617.7 L388.3 621.9 L393.5 627 L392.5 635.4 L384.2 638.5 L371.7 643.7 L364.4 651 L359 650 L356 644.8 L342.5 643.3 L333 644.2 L326.9 650 L320.6 646.9 L315.4 641.7 L305 639.6 L301.9 634.4 L313.3 627 L318.5 620.8 L322.7 613.5 L321.7 606.2 L314.4 608.7 L307 607.3 L300.8 608.3 L297.7 613.5 L290.2 614.2 L285 611.5 L274.6 611 L263 611.5 L258 615.6 L254.8 619.8 L255.8 624 L261 627.5 L252.7 633.3 L248.5 639.6 L241.2 640.6 L234 643.7 L226.7 644.2 L225.6 641.7 L218.3 638 L209 635.4 L203.7 631.2 L199.6 624 L191.2 620.4 L183 619.2 L179.8 614.6 L173.5 611.5 L164.2 610.4 L155.8 606.2 L149.6 606.7 L146.5 611.5 L144.4 607.9 L136 608.3 L143.3 604.2 L136 601 L133.3 594.8 L136 589.6 L135 585.4 L143.3 584.4 L145.4 580.2 L140.2 578.7 L128.7 580.2 L124.6 582.3 L114 583.3 L109 587.5 L101.7 584.4 L95.4 584.4 L89 580.2 L84 581.2 L76.7 578 L74.6 567.7 L69 563.5"/>
<path d="M124.6 581.2 L120.4 580.2 L119.4 577 L113 575 L111.7 570.8 L116.2 565.6 L120.4 560.4 L126.7 557.3 L135 552 L143.3 546.9 L149.6 543.3 L154.8 544.8 L156.9 550 L164.2 552 L172.5 549 L177.7 544.8 L178.7 538.5 L185 536.5 L192.3 533.3 L197.5 536.5 L209 533.3 L214.2 537.5 L218.3 533.3 L221.5 529.2 L227.7 527 L230.8 533.3 L237 538.5 L241.2 538.5 L243.3 534.4 L249.6 533 L254.8 536.5 L254.8 541.7 L249.6 544.8 L256.9 550 L251.7 552 L255.8 558.3 L251.7 562.5 L255.8 567.7 L253.7 574 L248.5 570.8 L243.3 569.8 L237 570.8 L230.8 568.7 L226.7 571.9 L218.3 571.9 L208 569.8 L193.3 566.2 L187 561.5 L185 555.2 L179.8 553 L172.5 556.2 L158 554.6 L147.5 559.4 L140.2 565.6 L134 569.8 L134 571.9 L143.3 570.8 L151.7 573 L156.2 576 L154.8 579.2 L145.4 580.2 L140.2 578.7 L128.7 580.2Z"/>
<path d="M214.2 576 L222.5 564.6 L226.7 568.7 L228.3 577.5Z"/>
<path d="M216.5 535.5 L226.5 535 L227.5 537.6 L217.5 538Z"/>
<path d="M382 652.5 L384.2 645.8 L390.4 638.5 L395.6 638.5 L396.7 643.7 L390.4 645.8 L389.4 652.5Z"/>
<path d="M738.7 511.4 L743.3 511.9 L744 518 L741.7 526.6 L738.3 524 L738.3 518Z"/>
<path d="M205.2 148 L213.7 150.3 L226.2 154.2 L232.5 158.4 L241 158 L248 155.8 L251.2 149.5 L257.5 148.7 L266 146 L266.5 151 L263 158 L259 162.8 L254.7 168.3 L256 173.7 L263 171.9 L257.5 174.5 L253 177.7 L252.8 184.7 L255 195.6 L258.3 205 L262 206.5 L262.5 211.2 L260.3 216.7 L263.7 222.2 L270.3 228.4 L270 233 L265.3 233 L263 227.7 L256 222.2 L246.5 216.7 L244.2 211.2 L242.6 205.8 L240.3 203 L245 201.9 L249.7 198 L248 194 L241.9 190 L239.5 184.7 L241 176 L236.4 174.5 L232.5 166 L228.6 159 L223 156.2 L212.2 152.7Z"/>
<path d="M176.6 257.2 L185.6 257.2 L185.6 265 L181.2 270.5 L185.2 272.8 L193 268.9 L195.6 271.2 L190.6 276.7 L186 281.4 L179.7 285.3 L172.7 286.9 L169.5 293.9 L162.5 300.2 L160.2 304 L153 304.8 L154.7 308.7 L161.7 311.6 L166.9 311.6 L166.4 315 L161.7 316.6 L160.2 322.8 L160.2 329 L157.5 333 L160.2 337.7 L160.2 347 L154.7 344.7 L151.6 340 L150.8 334.5 L155.5 332.2 L155.5 322.8 L150 320.5 L145.3 317.3 L144.5 311.9 L146 306.4 L143 304.8 L138.7 303.3 L141.4 298.6 L147.7 295.5 L149.2 292.3 L148.7 288.7 L153 289.2 L160.2 285.3 L161.7 271.2 L167.2 267.3Z"/>
<path d="M585.4 321.9 L590.7 318.1 L593.5 319.1 L600.2 321.9 L606 323.4 L610.7 321.9 L615.5 322.9 L619.3 327.2 L619.8 332 L617.4 334.8 L612.6 335.8 L611.7 341.5 L611.7 347.2 L614.1 348.2 L616.5 351.1 L617.4 354.9 L615.5 358.2 L613.1 358.2 L607.9 355.4 L602.6 352.5 L603.1 349.2 L606 345.3 L606 342.5 L603.1 338.7 L598.3 335.3 L593.5 333.9 L589.7 330.1 L586.9 324.3Z"/>
<path d="M608.8 350.1 L611.7 347.5 L611.7 347.2Z"/>
<path d="M542.9 343 L545.8 344.9 L550.6 346.3 L547.7 350.1 L543.9 353.9 L542.4 358.7 L540.1 362.5 L536.2 363.5 L532.9 363 L532.4 360.6 L534.3 356.8 L532.4 354.4 L530 353 L530.5 350.6 L537.7 350.6 L539.6 346.3Z"/>
<path d="M395.1 440.1 L399.8 440.1 L401.9 441.7 L405.5 442.4 L408.6 445.3 L412.3 447.4 L418.8 447.4 L420.1 446.4 L423.2 447.1 L424.5 449.5 L425.6 450.5 L423.7 451.6 L419.6 452.3 L418.5 453.4 L414.4 453.5 L413.3 452.3 L408.4 452.2 L403 449.2 L398 446.6 L394 446.1 L393.3 444.8 L394.3 443.2 L394.3 441.1Z"/>
</g>
<path d="M622.8 460 L616.5 458.7 L611.9 456 L604 452 L594.7 448 L582.2 447.6 L576.7 444.5 L570 443.5 L565.5 441.2 L564.8 438.8 L567.5 436" fill="none" stroke="#000" stroke-width="3.8" stroke-linejoin="round"/>
<path d="M561 434.5 L559.5 439.2" fill="none" stroke="#000" stroke-width="2.4"/>
<path d="M607 491.6 L609 486.4 L608.3 479 L612.7 474.8 L617 478.5 L625 476.8 L633.7 481.5 L640.5 480 L644 477.5 L648.5 488.2 L637 486.5 L627.5 485 L621.2 484.2 L618.9 486 L616.5 490 L618 493 L615 497.4Z" fill="#f0f0f0" stroke="#000" stroke-width="1"/>
<path d="M633 469 L644.5 469.5 L644.3 478Z" fill="#f0f0f0" stroke="#000" stroke-width="1"/>
<path d="M622.8 460.3 L630.8 458.5 L633 466Z" fill="#f0f0f0" stroke="#000" stroke-width="1"/>
<path d="M561.9 427.9 L578.3 427.9 L581.8 430.6 L582.2 434.5 L574.4 434.5 L570.5 433.7 L568.5 436.5 L566 436 L566.6 431.8 L563.4 432.6Z" fill="#f0f0f0" stroke="#000" stroke-width="1"/>
<path d="M627.2 459.6 L631 458.8 L632.6 464.6Z" fill="#f6f0c0"/>
<path d="M632.6 463.4 L633 469" fill="none" stroke="#000" stroke-width="1"/>
<path d="M622.8 460 L616.5 458.7 L611.9 456 L604 452 L594.7 448 L582.2 447.6 L576.7 444.5 L570 443.5 L565.5 441.2 L564.8 438.8 L567.5 436" fill="none" stroke="#f0f0f0" stroke-width="1.9" stroke-linejoin="round"/>
<path d="M561 434.5 L559.5 439.2" fill="none" stroke="#f0f0f0" stroke-width="0.9"/>
<path d="M607 491.6L615 497.4" stroke="#f0f0f0" stroke-width="2.5"/>
</g>
<rect x="123" y="689" width="750" height="31" fill="#f0f0f0"/>
<rect x="115" y="684" width="47" height="29" fill="#2e2e30"/>
<rect x="162" y="684" width="47" height="29" fill="#2c2348"/>
<rect x="209" y="684" width="47" height="29" fill="#2a1a58"/>
<rect x="256" y="684" width="46" height="29" fill="#250b66"/>
<rect x="302" y="684" width="47" height="29" fill="#240270"/>
<rect x="349" y="684" width="47" height="29" fill="#340478"/>
<rect x="396" y="684" width="47" height="29" fill="#550c80"/>
<rect x="443" y="684" width="47" height="29" fill="#7a108c"/>
<rect x="490" y="684" width="47" height="29" fill="#981e8a"/>
<rect x="537" y="684" width="47" height="29" fill="#b43878"/>
<rect x="584" y="684" width="47" height="29" fill="#d25464"/>
<rect x="631" y="684" width="47" height="29" fill="#e96c52"/>
<rect x="678" y="684" width="46" height="29" fill="#f28e66"/>
<rect x="724" y="684" width="47" height="29" fill="#f4ae84"/>
<rect x="771" y="684" width="47" height="29" fill="#f4cc9c"/>
<rect x="818" y="684" width="47" height="29" fill="#f6f0c0"/>
<rect x="115.5" y="683.5" width="749" height="30" fill="none" stroke="#000" stroke-width="1"/>
<line x1="115.5" y1="684" x2="115.5" y2="718" stroke="#000" stroke-width="1"/>
<line x1="302.5" y1="684" x2="302.5" y2="718" stroke="#000" stroke-width="1"/>
<line x1="490.5" y1="684" x2="490.5" y2="718" stroke="#000" stroke-width="1"/>
<line x1="677.5" y1="684" x2="677.5" y2="718" stroke="#000" stroke-width="1"/>
<line x1="864.5" y1="684" x2="864.5" y2="718" stroke="#000" stroke-width="1"/>
</svg>
<div class="t" style="left:297px;top:54.3px;font-size:17.5px;letter-spacing:0.3px;color:#000;-webkit-text-stroke:0.3px #fff;">VictoriaWeather.ca</div>
<div style="position:absolute;left:456px;top:64.4px;width:10.4px;height:1.2px;background:#333;"></div>
<div style="position:absolute;left:470.8px;top:64.4px;width:10.6px;height:1.2px;background:#333;"></div>
<div class="t" style="left:492.6px;top:54.3px;font-size:17.5px;letter-spacing:0.35px;color:#000;-webkit-text-stroke:0.3px #fff;">Temperature</div>
<div class="t" style="left:116px;top:717px;width:40px;margin-left:-20px;text-align:center;font-size:11px;">16</div>
<div class="t" style="left:303px;top:717px;width:40px;margin-left:-20px;text-align:center;font-size:11px;">18</div>
<div class="t" style="left:490px;top:717px;width:40px;margin-left:-20px;text-align:center;font-size:11px;">20</div>
<div class="t" style="left:677px;top:717px;width:40px;margin-left:-20px;text-align:center;font-size:11px;">22</div>
<div class="t" style="left:864px;top:717px;width:40px;margin-left:-20px;text-align:center;font-size:11px;">24</div>
<div class="t" style="left:427px;top:728px;font-size:11px;">&#176;C</div>
<div class="t" style="left:448.5px;top:728px;font-size:11px;letter-spacing:1.45px;">2026/04/20</div>
<div class="t" style="left:522.5px;top:728px;font-size:11px;letter-spacing:0.6px;">15:37</div>
</body></html>
